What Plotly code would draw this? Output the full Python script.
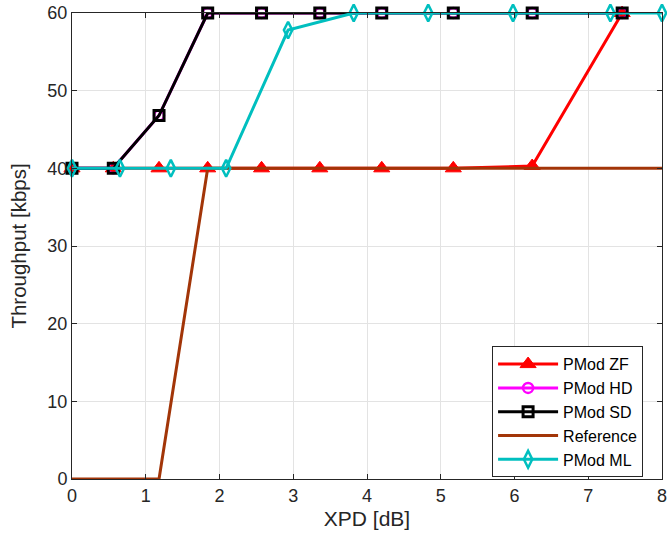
import plotly.graph_objects as go

# data
x_pmod = [0, 0.56, 1.18, 1.84, 2.57, 3.36, 4.2, 5.17, 6.24, 7.46]
zf = [40, 40, 40, 40, 40, 40, 40, 40, 40.3, 60]
hd = [40, 40, 46.8, 60, 60, 60, 60, 60, 60, 60]
sd = [40, 40, 46.8, 60, 60, 60, 60, 60, 60, 60]
x_ref = [0, 0.56, 1.18, 1.84, 2.57, 3.36, 4.2, 5.17, 6.24, 7.46, 8]
ref = [0, 0, 0, 40, 40, 40, 40, 40, 40, 40, 40]
x_ml = [0, 0.65, 1.34, 2.09, 2.93, 3.82, 4.83, 5.98, 7.3, 8]
ml = [40, 40, 40, 40, 57.8, 60, 60, 60, 60, 60]
x_ticks = [0, 1, 2, 3, 4, 5, 6, 7, 8]
y_ticks = [0, 10, 20, 30, 40, 50, 60]

LW = 3
fig = go.Figure()
fig.add_trace(go.Scatter(x=x_pmod, y=zf, name="PMod ZF", mode="lines+markers",
                         line=dict(color="#FF0000", width=LW),
                         marker=dict(symbol="triangle-up", size=14, color="#FF0000",
                                     line=dict(color="#FF0000", width=1))))
fig.add_trace(go.Scatter(x=x_pmod, y=hd, name="PMod HD", mode="lines+markers",
                         line=dict(color="#FF00FF", width=LW),
                         marker=dict(symbol="circle-open", size=10, color="#FF00FF",
                                     line=dict(color="#FF00FF", width=2.5))))
fig.add_trace(go.Scatter(x=x_pmod, y=sd, name="PMod SD", mode="lines+markers",
                         line=dict(color="#000000", width=LW),
                         marker=dict(symbol="square-open", size=10, color="#000000",
                                     line=dict(color="#000000", width=3))))
fig.add_trace(go.Scatter(x=x_ref, y=ref, name="Reference", mode="lines",
                         line=dict(color="#A23508", width=LW)))
fig.add_trace(go.Scatter(x=x_ml, y=ml, name="PMod ML", mode="lines+markers",
                         line=dict(color="#00BFBF", width=LW),
                         marker=dict(symbol="diamond-tall-open", size=12, color="#00BFBF",
                                     line=dict(color="#00BFBF", width=2.5))))
fig.update_traces(cliponaxis=False)

axis_common = dict(showline=True, linecolor="#262626", linewidth=1, mirror="ticks",
                   ticks="inside", ticklen=5, tickcolor="#262626",
                   showgrid=True, gridcolor="#E3E3E3", gridwidth=1, zeroline=False,
                   automargin=False, ticklabeloverflow="allow",
                   tickfont=dict(size=18, color="#262626"))
fig.update_xaxes(range=[0, 8], tickvals=x_ticks,
                 title=dict(text="XPD [dB]", font=dict(size=21, color="#262626"), standoff=6),
                 **axis_common)
fig.update_yaxes(range=[0, 60], tickvals=y_ticks,
                 title=dict(text="Throughput [kbps]", font=dict(size=20.5, color="#262626"), standoff=15),
                 **axis_common)

fig.update_layout(
    width=667, height=536,
    margin=dict(l=72, r=5, t=13, b=57),
    plot_bgcolor="white", paper_bgcolor="white",
    font=dict(family="Liberation Sans, Arial, sans-serif", color="#262626"),
    legend=dict(x=0.712, y=0.285, xanchor="left", yanchor="top",
                bgcolor="white", bordercolor="#262626", borderwidth=1,
                font=dict(size=16, color="#000000"), tracegroupgap=0,
                itemwidth=60),
)

fig.write_html("out.html", config={"displayModeBar": False},
               post_script="document.body.style.margin='0';")
